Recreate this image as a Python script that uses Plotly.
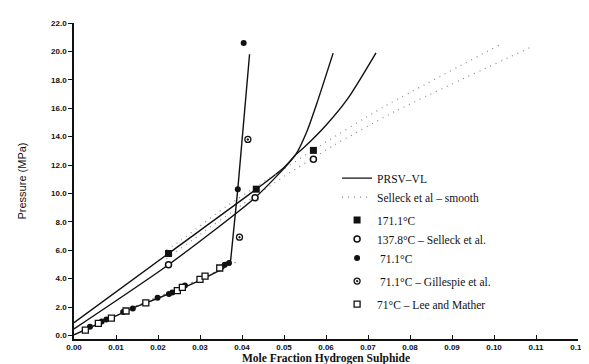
import plotly.graph_objects as go

# ---------------- data ----------------
x_ticks = [0.00, 0.01, 0.02, 0.03, 0.04, 0.05, 0.06, 0.07, 0.08, 0.09, 0.10, 0.11, 0.12]
x_ticktext = ["0.00", "0.01", "0.02", "0.03", "0.04", "0.05", "0.06", "0.07", "0.08", "0.09", "0.10", "0.11", "0.12"]
y_ticks = [0, 2, 4, 6, 8, 10, 12, 14, 16, 18, 20, 22]
y_ticktext = ["0.0", "2.0", "4.0", "6.0", "8.0", "10.0", "12.0", "14.0", "16.0", "18.0", "20.0", "22.0"]

# PRSV-VL model curves
prsv_171_x = [0.0, 0.0225, 0.0434, 0.050, 0.0527, 0.055, 0.060, 0.065, 0.0719]
prsv_171_y = [0.9, 5.77, 10.3, 11.83, 12.7, 13.3, 14.8, 16.6, 19.9]
prsv_138_x = [0.0, 0.0225, 0.0431, 0.0527, 0.0555, 0.0580, 0.0617]
prsv_138_y = [0.46, 4.98, 9.7, 12.7, 14.4, 16.5, 19.88]
prsv_71_x = [0.0, 0.005, 0.010, 0.015, 0.020, 0.025, 0.030, 0.0355, 0.0373, 0.0390, 0.0418]
prsv_71_y = [0.05, 0.72, 1.42, 2.05, 2.62, 3.22, 3.88, 4.70, 5.30, 10.3, 19.8]

# Selleck et al. smoothed curves
smooth_171_x = [0.022, 0.0254, 0.0363, 0.0586, 0.0735, 0.1016]
smooth_171_y = [6.0, 6.69, 9.09, 13.36, 16.05, 20.5]
smooth_138_x = [0.022, 0.030, 0.040, 0.050, 0.0617, 0.0766, 0.1088]
smooth_138_y = [5.4, 7.1, 9.2, 11.2, 13.36, 15.8, 20.3]
smooth_71_x = [0.012, 0.020, 0.030, 0.0385]
smooth_71_y = [1.75, 2.70, 3.95, 5.15]

# Experimental points
s171_x = [0.0225, 0.0434, 0.0570]
s171_y = [5.77, 10.3, 13.03]
s138_x = [0.0225, 0.0431, 0.0570]
s138_y = [4.98, 9.7, 12.4]
s71_x = [0.0038, 0.0066, 0.0077, 0.0117, 0.0140, 0.0199, 0.0226, 0.0234, 0.0264, 0.0359, 0.0369, 0.0390, 0.0404]
s71_y = [0.62, 0.98, 1.12, 1.65, 1.90, 2.65, 2.92, 3.03, 3.52, 4.98, 5.10, 10.3, 20.6]
gil_x = [0.0394, 0.0414]
gil_y = [6.92, 13.8]
lee_x = [0.0027, 0.0058, 0.0089, 0.0124, 0.0171, 0.0246, 0.0258, 0.0300, 0.0312, 0.0347]
lee_y = [0.38, 0.85, 1.22, 1.72, 2.30, 3.15, 3.38, 3.95, 4.18, 4.75]

# ---------------- figure ----------------
BLACK = "#111111"
DOT = "#8a8a8a"
legend_font = dict(family="Liberation Serif", size=11.5, color=BLACK)

fig = go.Figure()

# legend-bearing line traces first
fig.add_trace(go.Scatter(x=prsv_171_x, y=prsv_171_y, mode="lines", name="PRSV\u2013VL",
                         legendgroup="lines", line=dict(color=BLACK, width=1.4, shape="spline", smoothing=0.8)))
fig.add_trace(go.Scatter(x=smooth_171_x, y=smooth_171_y, mode="lines", name="Selleck et al \u2013 smooth",
                         legendgroup="lines", line=dict(color=DOT, width=1.2, dash="1px,5px", shape="spline", smoothing=0.6)))
fig.add_trace(go.Scatter(x=smooth_138_x, y=smooth_138_y, mode="lines", showlegend=False,
                         legendgroup="lines", line=dict(color=DOT, width=1.2, dash="1px,5px", shape="spline", smoothing=0.6)))
fig.add_trace(go.Scatter(x=smooth_71_x, y=smooth_71_y, mode="lines", showlegend=False,
                         legendgroup="lines", line=dict(color=DOT, width=1.2, dash="2px,4px")))
fig.add_trace(go.Scatter(x=prsv_138_x, y=prsv_138_y, mode="lines", showlegend=False,
                         legendgroup="lines", line=dict(color=BLACK, width=1.4, shape="spline", smoothing=0.6)))
fig.add_trace(go.Scatter(x=prsv_71_x, y=prsv_71_y, mode="lines", showlegend=False,
                         legendgroup="lines", line=dict(color=BLACK, width=1.4)))

# markers
fig.add_trace(go.Scatter(x=s171_x, y=s171_y, mode="markers", name="171.1\u00b0C", legendgroup="selleck",
                         marker=dict(symbol="square", size=7, color=BLACK)))
fig.add_trace(go.Scatter(x=s138_x, y=s138_y, mode="markers", name="137.8\u00b0C \u2013 Selleck et al.",
                         legendgroup="selleck",
                         marker=dict(symbol="circle", size=6, color="white", line=dict(color=BLACK, width=1.5))))
fig.add_trace(go.Scatter(x=s71_x, y=s71_y, mode="markers", name=" 71.1\u00b0C", legendgroup="selleck",
                         marker=dict(symbol="circle", size=6, color=BLACK)))
fig.add_trace(go.Scatter(x=gil_x, y=gil_y, mode="markers", name=" 71.1\u00b0C \u2013 Gillespie et al.",
                         legendgroup="gil",
                         marker=dict(symbol="circle-open-dot", size=6, color=BLACK, line=dict(width=1.3))))
fig.add_trace(go.Scatter(x=lee_x, y=lee_y, mode="markers", name="71\u00b0C \u2013 Lee and Mather",
                         legendgroup="lee",
                         marker=dict(symbol="square", size=6, color="white", line=dict(color=BLACK, width=1.3))))

tick_font = dict(family="Liberation Sans", size=8, color=BLACK, weight="bold")

fig.update_layout(
    width=589, height=364, autosize=False,
    margin=dict(l=66, r=11, t=15, b=24),
    paper_bgcolor="white", plot_bgcolor="white",
    showlegend=True,
    legend=dict(x=0.522, y=0.555, xanchor="left", yanchor="top", font=legend_font,
                bgcolor="rgba(0,0,0,0)", tracegroupgap=4, itemwidth=30),
    xaxis=dict(range=[0, 0.12], tickvals=x_ticks, ticktext=x_ticktext, showgrid=False, zeroline=False,
               showline=True, linecolor=BLACK, linewidth=1.5, ticks="inside", ticklen=4, tickcolor=BLACK,
               tickfont=tick_font,
               title=dict(text="Mole Fraction Hydrogen Sulphide", standoff=1,
                          font=dict(family="Liberation Serif", size=11.5, color=BLACK, weight="bold"))),
    yaxis=dict(range=[-0.25, 22], tickvals=y_ticks, ticktext=y_ticktext, showgrid=False, zeroline=False,
               showline=True, linecolor=BLACK, linewidth=1.5, ticks="outside", ticklen=4, tickcolor=BLACK,
               tickfont=tick_font,
               title=dict(text="Pressure (MPa)", standoff=22,
                          font=dict(family="Liberation Sans", size=11, color=BLACK))),
)

fig.write_html("out.html")
